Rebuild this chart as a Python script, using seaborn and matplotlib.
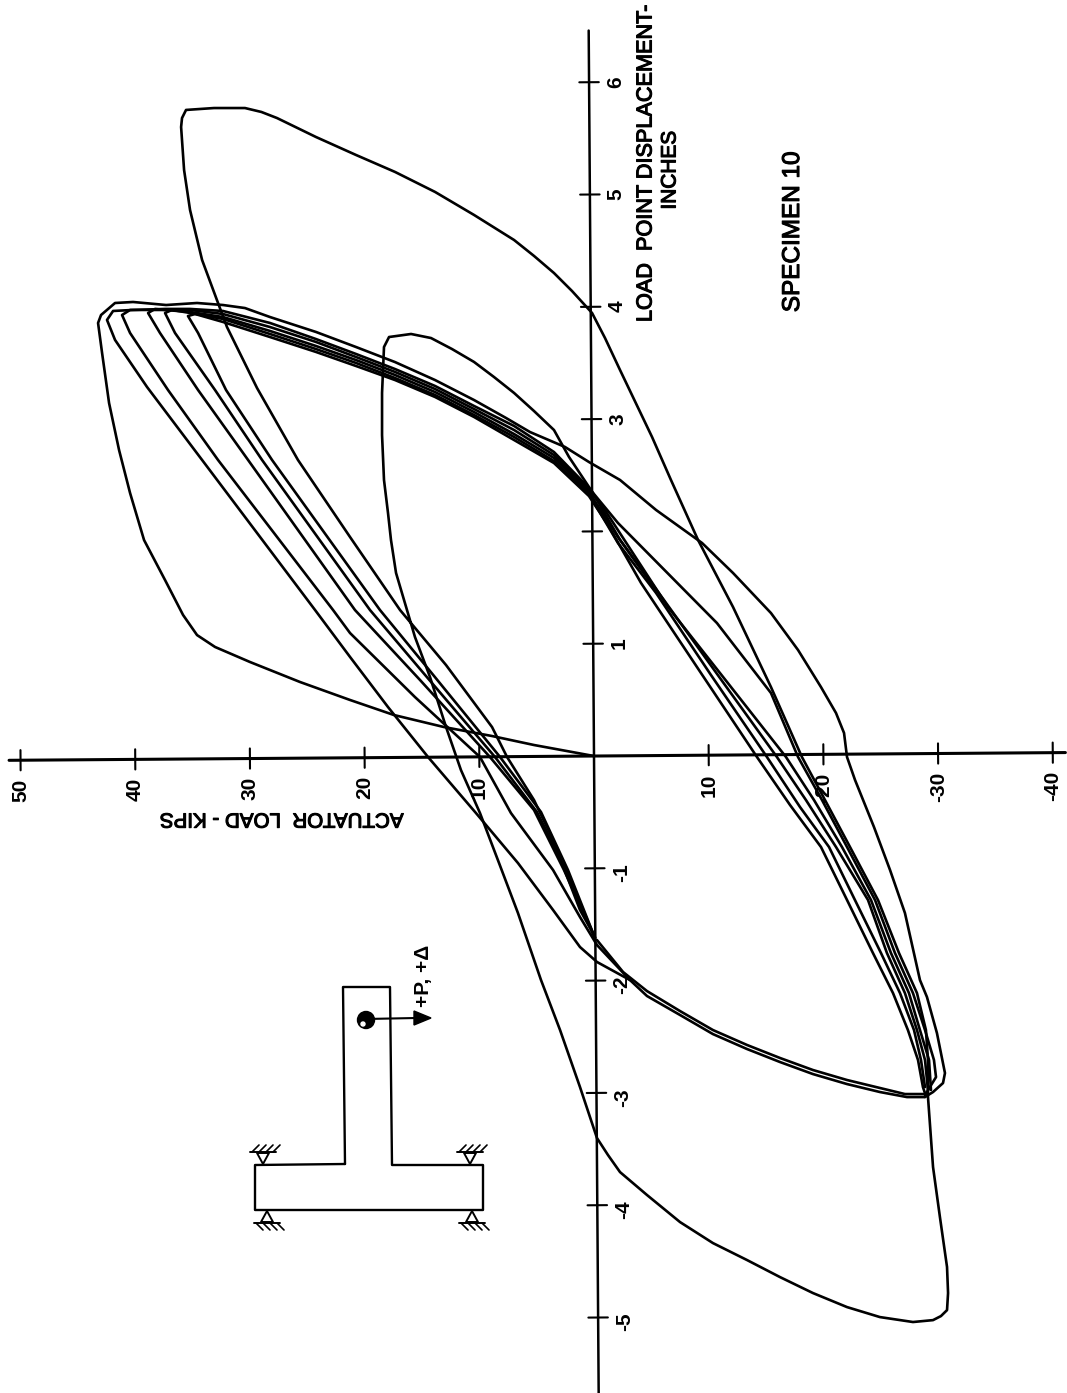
# Hysteresis loops of specimen 10, load vs displacement (scanned plot turned on its side)
import numpy as np
import matplotlib
matplotlib.use('Agg')
import matplotlib.pyplot as plt
import matplotlib.patheffects as pe
from matplotlib.transforms import Affine2D
from matplotlib.patches import Circle, Polygon
import seaborn as sns

# First loop: from zero out to +4 in, back through the -3 in tip
first_load = [0, 5.23, 8.89, 13.08, 17.44, 21.27, 25.63, 29.99, 33.04, 34.61, 35.83, 37.40, 39.23, 40.45, 41.41, 42.28, 42.89, 43.24, 42.98, 41.76, 40.19, 37.31, 34.61, 32.35, 30.43, 28.25, 24.24, 20.75, 17.35, 13.86, 10.46, 7.67, 5.58, 2.53, 0.44, -2.27, -5.41, -9.42, -12.12, -15.43, -17.79, -19.79, -21.10, -21.80, -22.06, -22.76, -24.41, -25.81, -27.11, -28.42, -29.03, -29.90, -30.60, -30.43, -29.56, -28.86]
first_disp = [0, 0.098, 0.178, 0.258, 0.365, 0.499, 0.659, 0.837, 0.971, 1.077, 1.256, 1.567, 1.923, 2.342, 2.725, 3.143, 3.589, 3.856, 3.927, 4.034, 4.043, 4.016, 4.034, 4.016, 3.989, 3.909, 3.776, 3.642, 3.508, 3.348, 3.170, 3.010, 2.885, 2.752, 2.618, 2.458, 2.191, 1.897, 1.630, 1.273, 0.944, 0.614, 0.383, 0.205, -0.009, -0.214, -0.632, -1.015, -1.398, -1.995, -2.146, -2.467, -2.823, -2.912, -2.992, -3.036]

# Shared reloading path from the -3 in tip back to the displacement axis
low_a_load = [-28.86, -27.29, -24.93, -22.06, -19.09, -16.22, -13.34, -10.37, -7.50, -4.62, -3.14, -0.26]
low_a_disp = [-3.037, -3.037, -2.992, -2.921, -2.832, -2.725, -2.609, -2.476, -2.306, -2.137, -1.995, -1.683]
low_b_load = [-28.86, -27.11, -24.93, -22.06, -19.09, -16.22, -13.34, -10.37, -7.50, -4.62, -2.53, -0.26]
low_b_disp = [-3.010, -3.010, -2.956, -2.885, -2.796, -2.689, -2.573, -2.440, -2.271, -2.093, -1.923, -1.639]

# Repeated cycles between +4 and -3 in
cycle1_load = [-3.14, -0.26, 1.22, 3.57, 6.63, 10.29, 14.47, 17.96, 21.27, 24.32, 34.17, 38.97, 41.76, 42.46, 41.93, 40.19, 37.40, 35.22, 32.35, 28.25, 24.24, 20.75, 17.35, 13.86, 10.46, 6.97, 3.49, 0.44, -2.09, -10.72, -15.43, -17.79, -19.88, -22.06, -24.50, -26.24, -27.81, -28.86, -29.64, -29.82, -28.86]
cycle1_disp = [-1.995, -1.834, -1.701, -1.371, -0.953, -0.508, -0.009, 0.436, 0.882, 1.300, 2.636, 3.286, 3.705, 3.883, 3.963, 3.972, 3.981, 3.981, 3.963, 3.856, 3.713, 3.580, 3.446, 3.295, 3.117, 2.939, 2.707, 2.387, 2.075, 1.184, 0.561, -0.009, -0.392, -0.810, -1.282, -1.754, -2.111, -2.440, -2.707, -2.859, -3.019]

cycle2_load = [-0.26, 1.22, 3.57, 7.24, 9.94, 15.61, 21.27, 22.75, 32.78, 37.14, 40.45, 41.15, 40.45, 38.88, 37.40, 35.22, 32.35, 28.25, 24.24, 20.75, 17.35, 13.86, 10.46, 6.97, 3.49, 0.44, -0.78, -6.45, -11.60, -16.74, -19.18, -21.62, -24.15, -25.89, -27.46, -28.42, -29.21, -29.38]
cycle2_disp = [-1.683, -1.434, -1.015, -0.508, -0.009, 0.525, 1.095, 1.300, 2.636, 3.259, 3.767, 3.927, 3.972, 3.972, 3.972, 3.972, 3.936, 3.820, 3.687, 3.553, 3.420, 3.268, 3.090, 2.903, 2.680, 2.369, 2.217, 1.327, 0.659, -0.009, -0.392, -0.810, -1.282, -1.754, -2.111, -2.440, -2.707, -2.974]

cycle3_load = [-0.09, 2.62, 5.23, 9.07, 15.17, 20.84, 30.16, 34.52, 37.84, 38.88, 38.27, 37.40, 35.22, 32.35, 28.25, 24.24, 20.75, 17.35, 13.86, 10.46, 6.97, 3.49, 0.44, -2.09, -6.10, -10.98, -15.95, -18.48, -21.10, -23.89, -25.54, -27.11, -28.16, -28.86, -29.12]
cycle3_disp = [-1.621, -1.015, -0.481, -0.009, 0.677, 1.300, 2.636, 3.259, 3.767, 3.945, 3.981, 3.972, 3.954, 3.909, 3.785, 3.651, 3.526, 3.393, 3.241, 3.063, 2.867, 2.654, 2.351, 1.950, 1.389, 0.695, -0.009, -0.392, -0.810, -1.282, -1.754, -2.111, -2.440, -2.707, -2.974]

cycle4_load = [-0.09, 2.44, 4.97, 8.63, 14.73, 19.53, 28.94, 33.04, 36.53, 37.40, 36.79, 35.22, 32.35, 28.25, 24.24, 20.75, 17.35, 13.86, 10.46, 6.97, 3.49, 0.44, -2.09, -5.41, -10.20, -15.08, -17.96, -20.49, -22.75, -25.02, -26.68, -27.90, -28.51, -28.86]
cycle4_disp = [-1.621, -1.015, -0.499, -0.009, 0.722, 1.300, 2.636, 3.259, 3.767, 3.945, 3.972, 3.945, 3.892, 3.758, 3.624, 3.500, 3.366, 3.215, 3.037, 2.841, 2.627, 2.333, 1.897, 1.452, 0.721, -0.009, -0.454, -0.810, -1.282, -1.754, -2.111, -2.440, -2.707, -2.948]

cycle5_load = [-0.09, 2.27, 4.62, 8.19, 14.30, 18.66, 28.07, 32.08, 34.52, 35.40, 34.78, 32.35, 28.25, 24.24, 20.75, 17.35, 13.86, 10.46, 6.97, 3.49, 0.44, -1.22, -4.10, -9.15, -14.21, -17.09, -19.79, -22.06, -24.32, -26.07, -27.37, -28.25, -28.68, -28.94]
cycle5_disp = [-1.621, -1.015, -0.499, -0.009, 0.757, 1.300, 2.636, 3.259, 3.767, 3.918, 3.936, 3.865, 3.731, 3.598, 3.473, 3.348, 3.197, 3.019, 2.814, 2.609, 2.315, 2.057, 1.541, 0.766, -0.009, -0.436, -0.810, -1.282, -1.754, -2.111, -2.440, -2.707, -2.948, -3.028]

# Big excursions to +5.8 and -5 in, then the small last loop
big_load = [-0.09, 1.22, 3.57, 5.23, 7.58, 8.89, 12.90, 16.91, 21.27, 25.81, 29.38, 32.00, 32.78, 34.17, 35.22, 35.74, 36.00, 35.92, 35.57, 33.13, 30.43, 29.00, 27.64, 24.24, 20.75, 17.35, 13.86, 10.46, 6.97, 5.23, 3.49, 1.92, 0.17, -0.96, -2.27, -5.06, -6.71, -9.07, -12.12, -15.43, -18.13, -20.14, -22.32, -24.76, -26.59, -28.16, -28.94, -29.12, -29.12, -29.56, -30.16, -30.78, -30.87, -30.78, -30.25, -29.56, -27.81, -24.93, -22.06, -19.09, -16.22, -13.34, -10.37, -7.50, -4.62, -2.27, -1.22, -0.26, 1.22, 2.96, 4.62, 6.63, 8.28, 9.94, 11.60, 12.90, 14.30, 15.61, 17.26, 17.70, 17.96, 18.31, 18.48, 18.48, 18.31, 17.87, 15.95, 14.21, 12.38, 10.46, 8.72, 6.97, 5.23, 3.49, 2.18, 0.09, -2.27, -5.41]
big_disp = [-1.612, -1.371, -0.748, -0.392, -0.009, 0.258, 0.810, 1.300, 1.950, 2.636, 3.277, 3.820, 4.034, 4.417, 4.862, 5.218, 5.601, 5.681, 5.753, 5.770, 5.770, 5.735, 5.681, 5.512, 5.352, 5.201, 5.023, 4.818, 4.595, 4.453, 4.301, 4.141, 3.945, 3.722, 3.437, 2.841, 2.458, 1.924, 1.327, 0.614, -0.009, -0.392, -0.810, -1.282, -1.754, -2.111, -2.440, -2.707, -3.037, -3.660, -4.105, -4.550, -4.782, -4.934, -4.987, -5.023, -5.040, -4.996, -4.907, -4.782, -4.640, -4.488, -4.337, -4.150, -3.909, -3.705, -3.553, -3.402, -2.948, -2.440, -1.995, -1.398, -0.953, -0.508, -0.125, 0.258, 0.704, 1.060, 1.630, 1.923, 2.164, 2.458, 2.858, 3.233, 3.642, 3.731, 3.758, 3.722, 3.624, 3.509, 3.375, 3.233, 3.072, 2.903, 2.663, 2.342, 1.924, 1.478]

curves = [(first_load, first_disp), (low_a_load, low_a_disp), (low_b_load, low_b_disp),
          (cycle1_load, cycle1_disp), (cycle2_load, cycle2_disp), (cycle3_load, cycle3_disp),
          (cycle4_load, cycle4_disp), (cycle5_load, cycle5_disp), (big_load, big_disp)]

load_ticks = [50, 40, 30, 20, 10, -10, -20, -30, -40]
load_labels = ['50', '40', '30', '20', '10', '10', '-20', '-30', '-40']
disp_ticks = [6, 5, 4, 3, 2, 1, -1, -2, -3, -4, -5]
disp_labels = ['6', '5', '4', '3', '', '1', '-1', '-2', '-3', '-4', '-5']

sns.set_theme(style='white')
plt.rcParams['font.family'] = ['Liberation Sans', 'DejaVu Sans']

fig = plt.figure(figsize=(10.67, 13.93), dpi=100)
ax = fig.add_axes([0, 0, 1, 1])

# Plotting the loops
for load, disp in curves:
    sns.lineplot(x=load, y=disp, sort=False, estimator=None, color='black', linewidth=1.9, ax=ax)
    ax.lines[-1].set_solid_joinstyle('round')

ax.set_xlim(51.79, -41.24)
ax.set_ylim(-5.672, 6.732)
ax.axis('off')

# The page was scanned a bit crooked, the axes lean with it
ox, oy = ax.transData.transform((0, 0))
tilted = ax.transData + Affine2D().rotate_deg_around(ox, oy, 0.42)

# Heavier letters than the font has, like the scanned lettering
heavy = [pe.withStroke(linewidth=0.8, foreground='black')]

ax.plot([51.0, -41.1], [0, 0], color='black', lw=2.2, transform=tilted)
ax.plot([0, 0], [6.46, -5.70], color='black', lw=1.8, transform=tilted)
for t, lab in zip(load_ticks, load_labels):
    ax.plot([t, t], [-0.09, 0.09], color='black', lw=1.5, transform=tilted)
    ax.text(t, -0.165, lab, rotation=90, ha='center', va='top', fontsize=15, fontweight='bold', color='black', transform=tilted)
for t, lab in zip(disp_ticks, disp_labels):
    ax.plot([0.85, -0.85], [t, t], color='black', lw=1.5, transform=tilted)
    shift = -0.04 if t < 0 else 0
    ax.text(-2.3, t + shift, lab, rotation=90, ha='center', va='center', fontsize=15, fontweight='bold', color='black', transform=tilted)

# Labels and the specimen sketch sit on the page, so this layer counts in page pixels
page = fig.add_axes([0, 0, 1, 1], facecolor='none')
page.set_xlim(0, 1067)
page.set_ylim(1393, 0)
page.axis('off')

page.text(646, 164, 'LOAD  POINT DISPLACEMENT-', rotation=90, ha='center', va='center', fontsize=15.6, color='black', path_effects=heavy)
page.text(670, 170, 'INCHES', rotation=90, ha='center', va='center', fontsize=15, color='black', path_effects=heavy)
page.text(793, 232, 'SPECIMEN 10', rotation=90, ha='center', va='center', fontsize=17.5, color='black', path_effects=heavy)
page.text(282, 819, 'ACTUATOR  LOAD - KIPS', rotation=180, ha='center', va='center', fontsize=14.8, color='black', path_effects=heavy)
page.text(424, 976, '+P, +Δ', rotation=90, ha='center', va='center', fontsize=15, fontweight='bold', color='black', family=['Liberation Sans', 'DejaVu Sans'])

frame_x = [345, 343, 390, 392, 483, 483, 255, 255, 345]
frame_y = [1164, 987, 987, 1165, 1165, 1210, 1210, 1165, 1164]
page.plot(frame_x, frame_y, color='black', lw=1.7)

page.add_patch(Circle((366, 1020), 8.5, color='black'))
page.add_patch(Circle((363, 1024), 2, color='white'))
page.plot([366, 416], [1019, 1018], color='black', lw=1.5)
page.add_patch(Polygon([[414, 1011], [431, 1018], [414, 1025]], color='black'))

# Pin supports: small V with a hatched ground line
def support(x, y, sign):
    page.plot([x, x - 6, x + 6, x], [y, y + sign * 11, y + sign * 11, y], color='black', lw=1.4)
    page.plot([x - 13, x + 13], [y + sign * 12, y + sign * 12], color='black', lw=1.4)
    for dx in [-11, -4, 3, 10]:
        page.plot([x + dx, x + dx + 7], [y + sign * 12, y + sign * 19], color='black', lw=1.2)

support(263, 1164, -1)
support(470, 1164, -1)
support(267, 1211, 1)
support(472, 1211, 1)

fig.savefig('out.png', dpi=100, facecolor='white')
